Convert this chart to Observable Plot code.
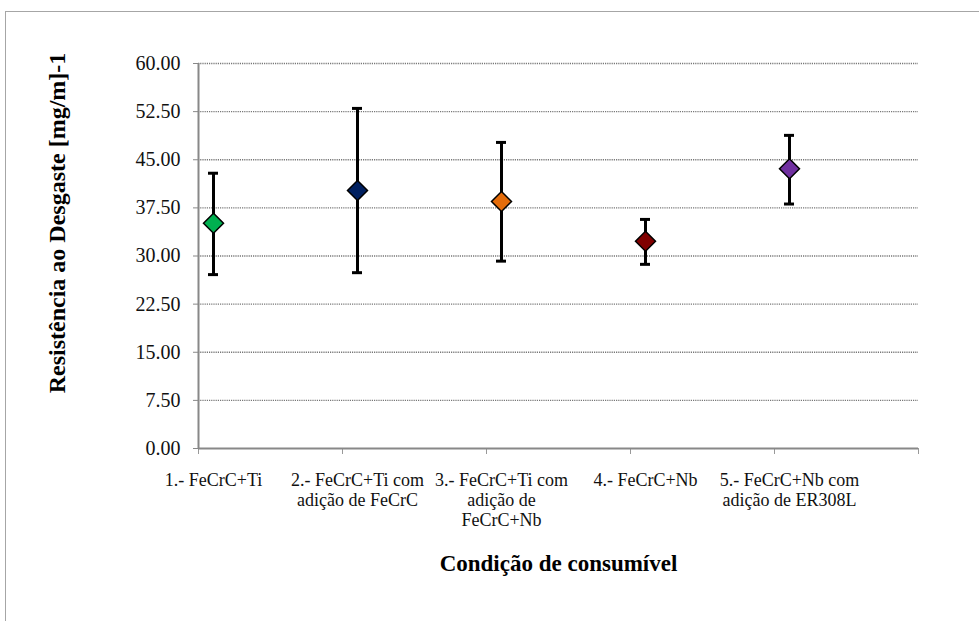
<!DOCTYPE html>
<html>
<head>
<meta charset="utf-8">
<script src="https://cdn.jsdelivr.net/npm/d3@7"></script>
<script src="https://cdn.jsdelivr.net/npm/@observablehq/plot@0.6"></script>
<style>
  html, body { margin: 0; padding: 0; background: #fff; overflow: hidden; }
  #wrap { position: relative; width: 979px; height: 621px; }
  #frame { position: absolute; left: 5px; top: 11px; width: 1000px; height: 700px; border: 1.5px solid #a6a6a6; box-sizing: border-box; }
  #chart { position: absolute; left: 0; top: 0; }
</style>
</head>
<body>
<div id="wrap"><div id="frame"></div><div id="chart"></div></div>
<script>
const categories = [
  "1.- FeCrC+Ti",
  "2.- FeCrC+Ti com\nadição de FeCrC",
  "3.- FeCrC+Ti com\nadição de\nFeCrC+Nb",
  "4.- FeCrC+Nb",
  "5.- FeCrC+Nb com\nadição de ER308L"
];
const means = [35.1, 40.2, 38.5, 32.3, 43.6];
const lower = [27.1, 27.4, 29.2, 28.7, 38.1];
const upper = [42.9, 53.0, 47.7, 35.7, 48.8];
const colors = ["#00b050", "#002060", "#e46c0a", "#800000", "#7030a0"];
const yTicks = [0, 7.5, 15, 22.5, 30, 37.5, 45, 52.5, 60];
const xTicks = [0, 1, 2, 3, 4, 5];

const data = categories.map((c, i) => ({
  c, pos: i + 0.5, mean: means[i], lo: lower[i], hi: upper[i], color: colors[i]
}));

const serif = "'Liberation Serif', 'Times New Roman', serif";
const off = -57;

const chart = Plot.plot({
  width: 979,
  height: 621,
  marginLeft: 198,
  marginRight: 61,
  marginTop: 63,
  marginBottom: 173,
  style: { fontFamily: serif, background: "transparent", color: "#111" },
  x: { domain: [0, 5] },
  y: { domain: [0, 60] },
  color: { type: "identity" },
  marks: [
    Plot.ruleY(yTicks.slice(1), { stroke: "#777", strokeWidth: 1.3, strokeDasharray: "1.2,1" }),
    Plot.axisY({ ticks: yTicks, tickFormat: d => d.toFixed(2), tickSize: 5, tickPadding: 13, fontSize: 20, stroke: "#888", fill: "#111", label: null }),
    Plot.axisX({ ticks: xTicks, tickFormat: () => "", tickSize: 6, stroke: "#999", label: null }),
    Plot.ruleX([0], { stroke: "#888", strokeWidth: 2 }),
    Plot.ruleY([0], { stroke: "#888", strokeWidth: 2 }),
    Plot.ruleX(data, { x: "pos", y1: "lo", y2: "hi", stroke: "black", strokeWidth: 3, dx: off }),
    Plot.ruleY(data, { x1: "pos", x2: "pos", y: "hi", insetLeft: -5, insetRight: -5, stroke: "black", strokeWidth: 3, dx: off }),
    Plot.ruleY(data, { x1: "pos", x2: "pos", y: "lo", insetLeft: -5, insetRight: -5, stroke: "black", strokeWidth: 3, dx: off }),
    Plot.dot(data, { x: "pos", y: "mean", symbol: "diamond2", r: 9, fill: "color", stroke: "black", strokeWidth: 1.5, dx: off }),
    Plot.text(data, { x: "pos", text: "c", frameAnchor: "bottom", lineAnchor: "top", dy: 23, dx: off, fontSize: 18, lineHeight: 1.12, fill: "#111" }),
    Plot.text(["Condição de consumível"], { frameAnchor: "bottom", lineAnchor: "middle", textAnchor: "middle", dy: 115, fontSize: 23, fontWeight: "bold", fill: "#000" }),
    Plot.text(["Resistência ao Desgaste [mg/m]-1"], { frameAnchor: "left", textAnchor: "middle", lineAnchor: "middle", rotate: -90, dx: -141, dy: -33, fontSize: 24, fontWeight: "bold", fill: "#000" })
  ]
});
document.getElementById("chart").appendChild(chart);
</script>
</body>
</html>
